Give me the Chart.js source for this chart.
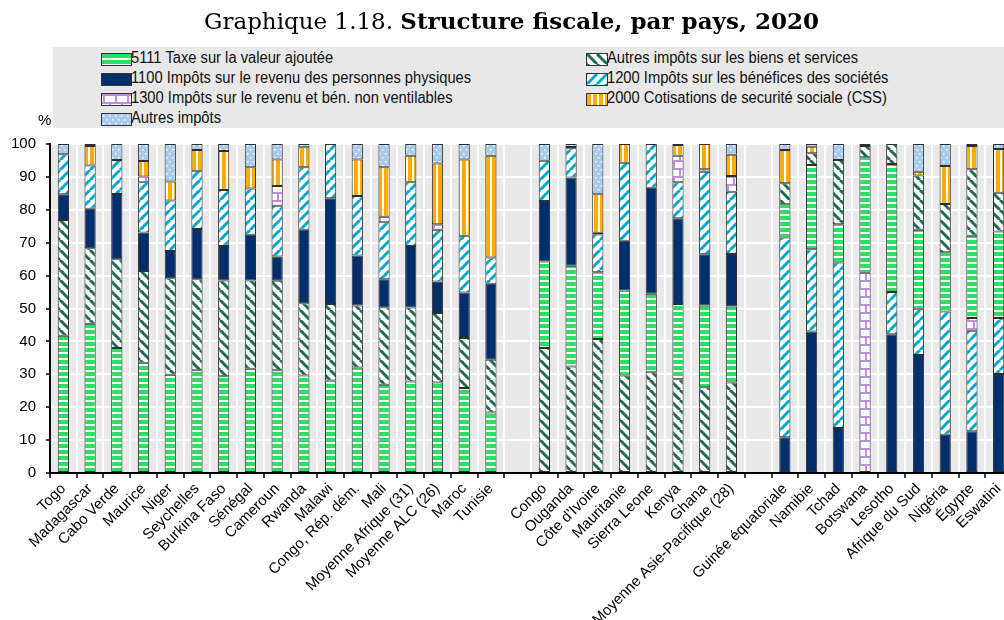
<!DOCTYPE html>
<html lang="fr">
<head>
<meta charset="utf-8">
<title>Structure fiscale, par pays, 2020</title>
<script src="https://cdn.jsdelivr.net/npm/chart.js@4.4.1/dist/chart.umd.min.js"></script>
<style>
  html, body { margin: 0; padding: 0; background: #fff; overflow: hidden; }
  #wrap { position: relative; width: 1004px; height: 620px; overflow: hidden; }
  #chart { position: absolute; left: 0; top: 0; }
  #title {
    position: absolute; left: 0; top: 7px; width: 1023px; text-align: center;
    font-family: 'DejaVu Serif', 'Liberation Serif', serif; font-size: 23px; line-height: 28px; color: #000;
  }
  #legend {
    position: absolute; left: 53px; top: 47px; width: 960px; height: 81px; background: #e8e8e8;
  }
  .item { position: absolute; height: 20px; white-space: nowrap; }
  .item canvas { position: absolute; top: 5px; left: 0; border: 1px solid #333; box-sizing: border-box; }
  .item span {
    position: absolute; top: 0; font-family: 'Liberation Sans', Arial, sans-serif; font-size: 16px; line-height: 20px;
    color: #111; transform: scaleX(0.92); transform-origin: left center;
  }
  #unit {
    position: absolute; left: 38px; top: 111px; font-family: 'Liberation Sans', Arial, sans-serif; font-size: 15px; color: #000;
  }
</style>
</head>
<body>
<div id="wrap">
  <canvas id="chart" width="1016" height="620"></canvas>
  <div id="title">Graphique 1.18. <b>Structure fiscale, par pays, 2020</b></div>
  <div id="legend"></div>
  <div id="unit">%</div>
</div>
<script>
// Pays, par groupe ; les chaînes vides séparent les trois groupes
const categories = ['Togo', 'Madagascar', 'Cabo Verde', 'Maurice', 'Niger', 'Seychelles', 'Burkina Faso', 'Sénégal',
  'Cameroun', 'Rwanda', 'Malawi', 'Congo, Rép. dém.', 'Mali', 'Moyenne Afrique (31)', 'Moyenne ALC (26)', 'Maroc', 'Tunisie', '',
  'Congo', 'Ouganda', "Côte d'Ivoire", 'Mauritanie', 'Sierra Leone', 'Kenya', 'Ghana', 'Moyenne Asie-Pacifique (28)', '',
  'Guinée équatoriale', 'Namibie', 'Tchad', 'Botswana', 'Lesotho', 'Afrique du Sud', 'Nigéria', 'Égypte', 'Eswatini'];

// Parts des recettes fiscales totales (%)
const tva = [41.7, 45.4, 38.0, 33.5, 29.9, 31.2, 29.4, 31.7, 31.2, 29.6, 28.1, 32.1, 26.8, 27.8, 27.5, 25.8, 18.4, null,
  26.3, 30.6, 20.3, 25.9, 23.9, 22.9, 24.8, 23.1, null,
  10.1, 25.6, 11.6, 35.1, 38.9, 24.0, 18.0, 25.0, 26.3];
const autresBiens = [35.2, 22.9, 27.0, 27.9, 29.3, 27.7, 29.1, 26.8, 27.2, 22.0, 23.3, 18.8, 23.6, 22.5, 21.1, 15.2, 16.0, null,
  38.0, 32.4, 40.7, 29.6, 30.6, 28.5, 26.1, 27.5, null,
  6.4, 3.6, 19.5, 3.4, 6.1, 16.5, 14.7, 20.2, 11.8];
const irpp = [7.8, 12.0, 19.8, 11.7, 8.3, 15.3, 10.5, 13.9, 7.4, 22.3, 32.1, 15.2, 8.5, 18.7, 9.6, 13.9, 23.1, null,
  18.4, 26.8, 0, 15.1, 32.2, 26.0, 15.6, 16.0, null,
  10.9, 43.0, 13.7, 0, 42.2, 35.9, 11.6, 12.7, 30.1];
const impSocietes = [12.2, 13.2, 10.3, 15.3, 15.3, 17.7, 17.0, 14.1, 15.4, 19.0, 16.5, 18.1, 17.3, 19.4, 15.7, 17.2, 8.0, null,
  12.2, 8.9, 11.5, 23.7, 13.3, 11.0, 25.1, 18.9, null,
  60.7, 25.0, 50.3, 0, 12.8, 14.0, 37.5, 30.5, 17.0];
const nonVentilables = [0, 0, 0, 1.7, 0, 0, 0, 0, 6.0, 0, 0, 0, 1.7, 0, 1.7, 0, 0, null,
  0, 0, 0.5, 0, 0, 8.0, 0.7, 4.8, null,
  0, 0, 0, 60.9, 0, 0, 0, 3.9, 0];
const cotisations = [0, 5.9, 0, 4.7, 5.8, 6.3, 11.9, 6.4, 8.1, 6.1, 0, 11.1, 15.0, 8.0, 18.5, 23.2, 30.9, null,
  0, 0.4, 11.7, 5.7, 0, 3.3, 7.7, 6.4, null,
  10.1, 2.0, 0, 0, 0, 1.2, 11.5, 7.1, 13.3];
const autresImpots = [3.1, 0.6, 4.9, 5.2, 11.4, 1.8, 2.1, 7.1, 4.7, 1.0, 0, 4.7, 7.1, 3.6, 5.9, 4.7, 3.6, null,
  5.1, 0.9, 15.3, 0, 0, 0.3, 0, 3.3, null,
  1.8, 0.8, 4.9, 0.6, 0, 8.4, 6.7, 0.6, 1.5];

const series = {
  tva: { label: '5111 Taxe sur la valeur ajoutée', data: tva },
  ab: { label: 'Autres impôts sur les biens et services', data: autresBiens },
  irpp: { label: '1100 Impôts sur le revenu des personnes physiques', data: irpp },
  is: { label: '1200 Impôts sur les bénéfices des sociétés', data: impSocietes },
  nv: { label: '1300 Impôts sur le revenu et bén. non ventilables', data: nonVentilables },
  css: { label: '2000 Cotisations de securité sociale (CSS)', data: cotisations },
  autres: { label: 'Autres impôts', data: autresImpots }
};

// each group is sorted on a different tax, so the stacking order changes
const groups = [
  { from: 0, to: 16, order: ['tva', 'ab', 'irpp', 'is', 'nv', 'css', 'autres'] },
  { from: 18, to: 25, order: ['ab', 'tva', 'irpp', 'is', 'nv', 'css', 'autres'] },
  { from: 27, to: 35, order: ['irpp', 'is', 'nv', 'tva', 'ab', 'css', 'autres'] }
];

// hatch / stripe fills
function makeFill(ctx, key) {
  if (key === 'irpp') return '#002f6c';
  const t = document.createElement('canvas');
  const g = t.getContext('2d');
  let w = 10, h = 10;
  if (key === 'tva') { w = 6; h = 6; }
  if (key === 'css') { w = 6; h = 6; }
  if (key === 'nv') { w = 12; h = 16; }
  if (key === 'autres') { w = 6; h = 8; }
  t.width = w; t.height = h;
  g.fillStyle = '#fff';
  g.fillRect(0, 0, w, h);
  if (key === 'tva') {
    g.fillStyle = '#2bdf62';
    g.fillRect(0, 0, w, 4);
  } else if (key === 'css') {
    g.fillStyle = '#ffab00';
    g.fillRect(0, 0, 4, h);
  } else if (key === 'ab' || key === 'is') {
    g.strokeStyle = key === 'ab' ? '#1c6b56' : '#00a9cf';
    g.lineWidth = 3;
    for (const k of [-w, 0, w]) {
      g.beginPath();
      if (key === 'ab') { g.moveTo(k, 0); g.lineTo(k + w, h); }
      else { g.moveTo(k, h); g.lineTo(k + w, 0); }
      g.stroke();
    }
  } else if (key === 'nv') {
    g.strokeStyle = '#c08de6';
    g.lineWidth = 2;
    g.beginPath();
    g.moveTo(0, 1); g.lineTo(w, 1);
    g.moveTo(0, 9); g.lineTo(w, 9);
    g.moveTo(2, 0); g.lineTo(2, 8);
    g.moveTo(8, 8); g.lineTo(8, 16);
    g.stroke();
  } else if (key === 'autres') {
    g.fillStyle = '#a9cbeb';
    g.fillRect(0, 0, w, h);
    g.fillStyle = '#fff';
    g.fillRect(1, 1, 1.5, 1.5);
    g.fillRect(4, 5, 1.5, 1.5);
  }
  return ctx.createPattern(t, 'repeat');
}

const canvas = document.getElementById('chart');
const ctx = canvas.getContext('2d');

// one dataset per tax and per group, so each group can stack in its own order
const datasets = [];
groups.forEach(grp => {
  grp.order.forEach(key => {
    const data = series[key].data.map((v, i) => (i >= grp.from && i <= grp.to && v) ? v : null);
    datasets.push({
      label: series[key].label,
      data: data,
      stack: 'total',
      backgroundColor: makeFill(ctx, key),
      borderColor: '#2e2e2e',
      borderWidth: 1,
      borderSkipped: false,
      categoryPercentage: 1,
      barPercentage: 0.42
    });
  });
});

// grey plot background
const plotBg = {
  id: 'plotBg',
  beforeDraw(chart) {
    const a = chart.chartArea;
    const c = chart.ctx;
    c.save();
    c.fillStyle = '#e9e9e9';
    c.fillRect(a.left, a.top, a.right - a.left, a.bottom - a.top);
    c.restore();
  }
};

const tickFont = { family: "'Liberation Sans', Arial, sans-serif", size: 15 };

new Chart(ctx, {
  type: 'bar',
  data: { labels: categories, datasets: datasets },
  options: {
    responsive: false,
    animation: false,
    devicePixelRatio: 1,
    layout: { padding: { top: 144, right: 4, left: 0, bottom: 0 } },
    plugins: { legend: { display: false }, tooltip: { enabled: false } },
    scales: {
      x: {
        stacked: true,
        grid: { color: '#fff', lineWidth: 2, offset: true, tickLength: 5, tickColor: '#000', tickWidth: 1.5 },
        border: { color: '#000', width: 2 },
        ticks: { autoSkip: false, minRotation: 45, maxRotation: 45, font: tickFont, color: '#000', padding: 2 },
        afterFit: s => { s.height = 147; }
      },
      y: {
        stacked: true,
        min: 0,
        max: 100,
        grid: { color: '#fff', lineWidth: 2, tickLength: 4, tickColor: '#000', tickWidth: 1.5 },
        border: { color: '#000', width: 2 },
        ticks: { stepSize: 10, font: tickFont, color: '#000', padding: 10 },
        afterFit: s => { s.width = 50; }
      }
    }
  },
  plugins: [plotBg]
});

// legend: two columns on a grey band
const legendItems = [
  { key: 'tva', x: 48, y: 0, w: 29 },
  { key: 'irpp', x: 48, y: 20, w: 29 },
  { key: 'nv', x: 48, y: 40, w: 29 },
  { key: 'autres', x: 48, y: 60, w: 29 },
  { key: 'ab', x: 533, y: 0, w: 20 },
  { key: 'is', x: 533, y: 20, w: 20 },
  { key: 'css', x: 533, y: 40, w: 20 }
];
const legend = document.getElementById('legend');
legendItems.forEach(it => {
  const div = document.createElement('div');
  div.className = 'item';
  div.style.left = it.x + 'px';
  div.style.top = (it.y + 1) + 'px';
  const sw = document.createElement('canvas');
  sw.width = it.w;
  sw.height = 11;
  const sctx = sw.getContext('2d');
  sctx.fillStyle = makeFill(sctx, it.key);
  sctx.fillRect(0, 0, it.w, 11);
  const span = document.createElement('span');
  span.style.left = (it.w + 1) + 'px';
  span.textContent = series[it.key].label;
  div.appendChild(sw);
  div.appendChild(span);
  legend.appendChild(div);
});
</script>
</body>
</html>
